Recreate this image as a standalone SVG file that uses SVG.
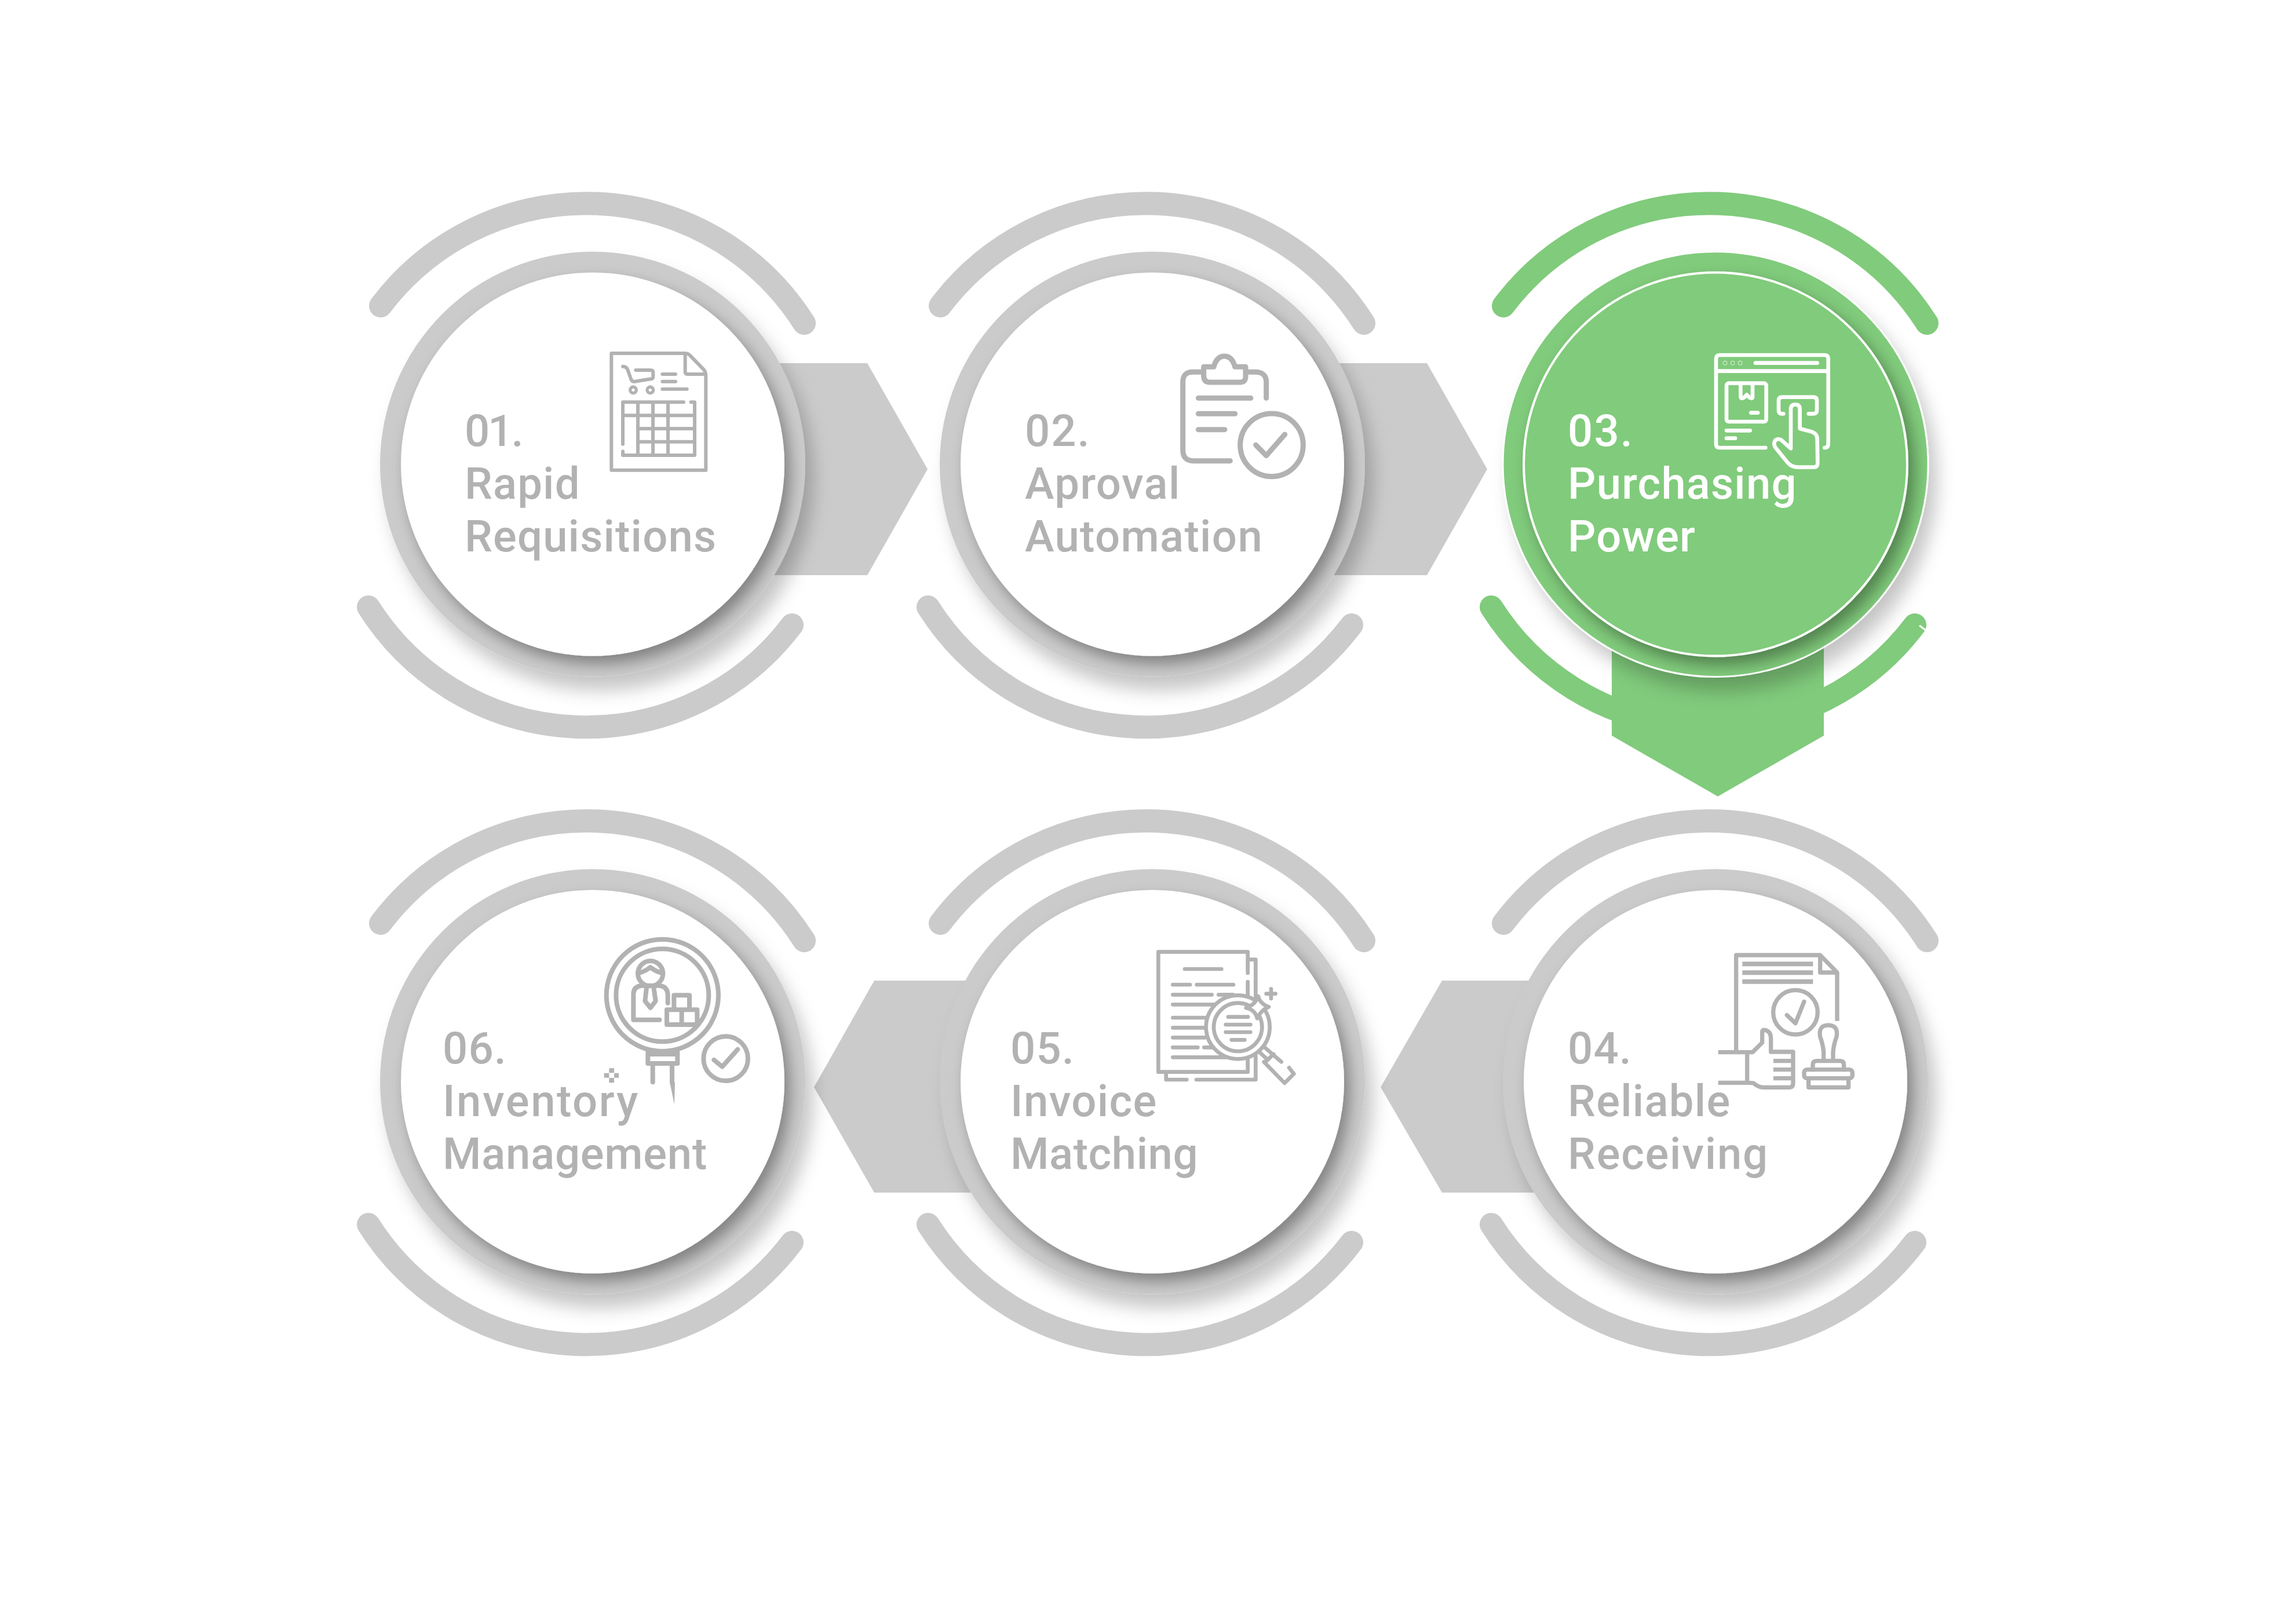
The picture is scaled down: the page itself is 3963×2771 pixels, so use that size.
<svg xmlns="http://www.w3.org/2000/svg" xmlns:xlink="http://www.w3.org/1999/xlink" width="3963" height="2771" viewBox="0 0 3963 2771">
<style>
.arc{fill:none;stroke-width:40;stroke-linecap:round}
.arc.gray{stroke:#cbcbcb}.arc.green{stroke:#81cb7c}
.arrow.gray{fill:#cbcbcb}.arrow.green{fill:#81cb7c}
.ring{fill:#cbcbcb;filter:url(#sRing)}
.disc{fill:#fff;filter:url(#sDisc)}
.ring.green{fill:#81cb7c;stroke:#fff;stroke-width:3}
.disc.green{fill:#81cb7c;stroke:#fff;stroke-width:4}
.lbl{font-family:Roboto,"Liberation Sans",sans-serif;font-weight:500;font-size:76px;fill:#b2b2b2;letter-spacing:1.2px}
.lbl.w{fill:#fff}
.ic{fill:none;stroke:#b2b2b2;stroke-linecap:round;stroke-linejoin:round}
.ic.w{stroke:#fff}
</style>
<defs>
<filter id="sRing" x="-20%" y="-20%" width="150%" height="150%"><feDropShadow dx="14" dy="24" stdDeviation="15" flood-color="#000" flood-opacity=".22"/></filter>
<filter id="sDisc" x="-20%" y="-20%" width="150%" height="150%"><feDropShadow dx="10" dy="14" stdDeviation="13" flood-color="#000" flood-opacity=".36"/></filter>
<path id="arcTop" d="M-356 -275A445 445 0 0 1 375 -245"/>
<path id="arcBot" d="M354 276A445 445 0 0 1 -377 245"/>
</defs>
<rect width="3963" height="2771" fill="#fff"/>
<g id="connectors">
<path class="arrow gray" d="M1300 627H1497L1601 810L1497 993H1300Z"/>
<path class="arrow gray" d="M2266 627H2463L2567 810L2463 993H2266Z"/>
<path class="arrow green" d="M2782 1100H3148V1270L2965 1375L2782 1270Z"/>
<path class="arrow gray" d="M2700 1693H2489L2383 1877L2489 2059H2700Z"/>
<path class="arrow gray" d="M1720 1693H1509L1405 1877L1509 2059H1720Z"/>
</g>
<g id="node-01">
<use href="#arcTop" x="1013" y="803" class="arc gray"/><use href="#arcBot" x="1013" y="803" class="arc gray"/>
<circle class="ring" cx="1023" cy="801.5" r="367"/><circle class="disc" cx="1023" cy="801.5" r="331"/>
<g class="ic" stroke-width="18" transform="translate(1000 570) scale(.3333)">
<path d="M166 120H550Q560 120 570 128L645 205Q655 218 655 235V725H166Z"/><path d="M548 125V215Q548 228 560 228H650"/>
<path d="M225 188Q245 188 250 205L268 255Q273 270 295 265L375 252Q382 250 382 240V220Q382 207 368 207H292"/>
<circle cx="279" cy="310" r="16" stroke-width="16"/><circle cx="367" cy="310" r="16" stroke-width="16"/>
<path d="M430 228H498M430 266H498M430 305H557"/>
<path d="M540 373H225V590M225 628V648H597V373H578M303 373V648M381 373V648M459 373V648M225 442H597M303 510H597M303 578H597"/>
</g>
<text class="lbl" x="802" y="770" style="letter-spacing:-3px">01.</text><text class="lbl" x="802" y="861">Rapid</text><text class="lbl" x="802" y="952">Requisitions</text>
</g>
<g id="node-02">
<use href="#arcTop" x="1979" y="803" class="arc gray"/><use href="#arcBot" x="1979" y="803" class="arc gray"/>
<circle class="ring" cx="1989" cy="801.5" r="367"/><circle class="disc" cx="1989" cy="801.5" r="331"/>
<g class="ic" stroke-width="27" transform="translate(2020 580) scale(.3333)">
<path d="M160 187H115Q65 187 65 240V590Q65 647 120 647H310M403 187H440Q497 187 497 240V322"/>
<path d="M173 160H225Q240 105 280 105Q320 105 335 160H390V210Q390 240 360 240H205Q175 240 173 210Z"/>
<path d="M145 322H417M145 403H335M145 485H282"/>
<circle cx="525" cy="565" r="163"/><path d="M443 565L497 620L593 510"/>
</g>
<text class="lbl" x="1769" y="770" style="letter-spacing:2px">02.</text><text class="lbl" x="1769" y="861" style="letter-spacing:1.5px">Aproval</text><text class="lbl" x="1769" y="952" style="letter-spacing:1.4px">Automation</text>
</g>
<g id="node-03">
<use href="#arcTop" x="2951" y="803" class="arc green"/><use href="#arcBot" x="2951" y="803" class="arc green"/>
<path d="M3313 1080L3328 1091" fill="none" stroke="#fff" stroke-width="3"/>
<circle class="ring green" cx="2961" cy="801.5" r="367"/><circle class="disc green" cx="2961" cy="801.5" r="331"/>
<g class="ic w" stroke-width="20" transform="translate(2940 590) scale(.3333)">
<path d="M322 549H85Q66 549 66 530V88Q66 69 85 69H628Q647 69 647 88V530Q647 549 628 549M70 152H645M270 110H590"/>
<circle cx="113" cy="110" r="1"/><circle cx="152" cy="110" r="1"/><circle cx="191" cy="110" r="1"/>
<rect x="120" y="215" width="206" height="199" rx="12"/>
<path d="M193 220V285Q195 298 210 290L225 275L240 290Q255 298 255 285V220M247 368H282M120 460H242M120 500H165"/>
<path d="M415 373H405Q390 373 390 355V305Q390 287 408 287H570Q588 287 588 305V355Q588 373 570 373H545"/>
<path d="M453 553V350Q453 325 477 325Q500 325 500 350V450L560 466Q590 475 590 505L592 630Q592 650 570 650H490Q460 650 440 630L375 550Q360 530 372 512Q385 498 405 510Z"/>
</g>
<text class="lbl w" x="2706" y="770" style="letter-spacing:2.2px">03.</text><text class="lbl w" x="2706" y="861">Purchasing</text><text class="lbl w" x="2706" y="952">Power</text>
</g>
<g id="node-04">
<use href="#arcTop" x="2951" y="1869" class="arc gray"/><use href="#arcBot" x="2951" y="1869" class="arc gray"/>
<circle class="ring" cx="2961" cy="1867.5" r="367"/><circle class="disc" cx="2961" cy="1867.5" r="331"/>
<g class="ic" stroke-width="22" transform="translate(2960 1640) scale(.3333)" stroke-linecap="butt">
<path stroke-linecap="butt" d="M110 520V27H545L633 117V368M545 35V117H625"/>
<path stroke-linecap="butt" d="M142 73H508M142 118H508M142 164H508" stroke-width="24"/>
<circle cx="417" cy="323" r="115"/><path d="M373 338L417 380L462 268"/>
<path stroke-linecap="butt" d="M17 530H195L245 480V425Q245 413 258 415Q290 420 290 460V528H405V690Q405 712 385 712H250Q225 712 200 690Q190 688 170 688H17M167 530V688M303 575H395M303 620H395M303 665H395"/>
<path d="M563 565V530Q560 490 545 450Q535 390 587 390Q640 390 630 450Q615 490 612 530V565"/>
<path d="M507 620V595Q507 575 527 575H648Q668 575 668 595V620"/><rect x="462" y="620" width="250" height="45" rx="15"/><path d="M485 665V712H692V665"/>
</g>
<text class="lbl" x="2706" y="1836">04.</text><text class="lbl" x="2706" y="1927" style="letter-spacing:1.3px">Reliable</text><text class="lbl" x="2706" y="2018" style="letter-spacing:1.8px">Receiving</text>
</g>
<g id="node-05">
<use href="#arcTop" x="1979" y="1869" class="arc gray"/><use href="#arcBot" x="1979" y="1869" class="arc gray"/>
<circle class="ring" cx="1989" cy="1867.5" r="367"/><circle class="disc" cx="1989" cy="1867.5" r="331"/>
<g class="ic" stroke-width="20" transform="translate(1980 1630) scale(.3333)">
<path d="M521 150V40H58V662H521V595M521 195V265M530 80H562V270M562 580V702H255M205 702H98V670"/>
<path d="M195 129H385M133 210H222M257 210H447M133 262H335M370 262H445M133 313H350M133 381H300M133 433H295M133 484H300M133 535H262M295 535H340M133 586H410"/>
<circle cx="470" cy="430" r="165" fill="#fff"/><circle cx="470" cy="430" r="125"/>
<path fill="#fff" d="M575 270Q585 310 630 325Q590 340 570 385Q560 340 512 330Q560 315 575 270Z"/>
<path d="M642 232V282M617 257H665M420 377H522M407 417H535M407 456H535M437 496H505"/>
<path d="M612 538L695 610M585 562L625 600M605 610L712 720L760 672L735 640M610 612L655 570"/>
</g>
<text class="lbl" x="1744" y="1836">05.</text><text class="lbl" x="1744" y="1927" style="letter-spacing:1.4px">Invoice</text><text class="lbl" x="1744" y="2018" style="letter-spacing:.6px">Matching</text>
</g>
<g id="node-06">
<use href="#arcTop" x="1013" y="1869" class="arc gray"/><use href="#arcBot" x="1013" y="1869" class="arc gray"/>
<circle class="ring" cx="1023" cy="1867.5" r="367"/><circle class="disc" cx="1023" cy="1867.5" r="331"/>
<g class="ic" stroke-width="24" transform="translate(1030 1600) scale(.3333)">
<circle cx="340" cy="355" r="290"/><circle cx="340" cy="355" r="240"/>
<circle cx="278" cy="242" r="65"/><path d="M225 238Q255 228 277 210Q300 228 330 238"/>
<path d="M325 482H190V350Q190 310 230 305H325Q368 310 368 355V395M258 315L250 385L278 420L305 385L295 315"/>
<path d="M400 430V355H480V430M363 430H520V507H363ZM440 430V507"/>
<path d="M265 640V708H418V640M265 660H405M290 715V805M390 715V805"/>
<circle cx="668" cy="683" r="115"/><path d="M607 690L650 725L730 635"/>
<path stroke="none" fill="#b2b2b2" d="M378 805H405L402 920Z"/>
<path stroke="none" fill="#b2b2b2" d="M64 733H90V757H64ZM38 758H64V782H38ZM90 758H114V782H90ZM64 783H90V808H64Z"/>
</g>
<text class="lbl" x="764" y="1836">06.</text><text class="lbl" x="764" y="1927" style="letter-spacing:2.6px">Inventory</text><text class="lbl" x="764" y="2018" style="letter-spacing:.8px">Management</text>
</g>
</svg>
